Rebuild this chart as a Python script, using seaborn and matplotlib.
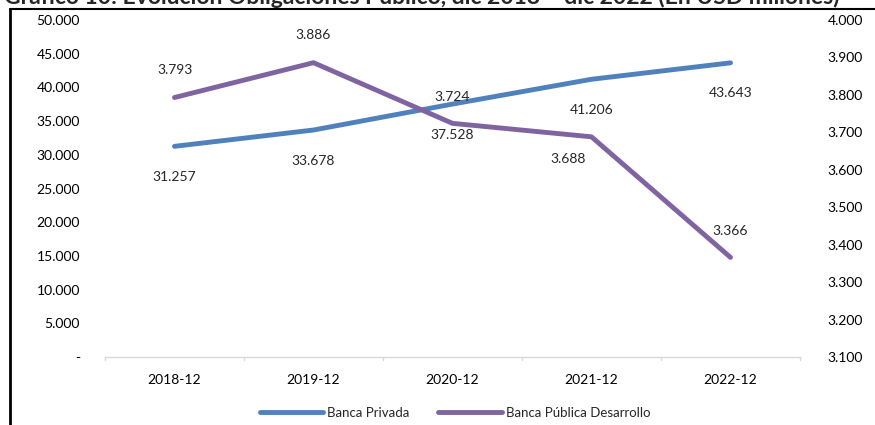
import matplotlib
matplotlib.use("Agg")
import matplotlib.pyplot as plt
import seaborn as sns
import pandas as pd
from matplotlib.ticker import FuncFormatter, FixedLocator
from matplotlib.lines import Line2D

categories = ["2018-12", "2019-12", "2020-12", "2021-12", "2022-12"]
banca_privada = [31257, 33678, 37528, 41206, 43643]
banca_publica = [3793, 3886, 3724, 3688, 3366]
series_names = ["Banca Privada", "Banca Pública Desarrollo"]
title = "Gráfico 10: Evolución Obligaciones Público, dic 2018 – dic 2022 (En USD millones)"

sns.set_theme(style="white")
plt.rcParams["font.family"] = ["Lato", "DejaVu Sans"]

BLUE = "#4F81BD"
PURPLE = "#8064A2"

def fmt(v, pos=None):
    if abs(v) < 1e-9:
        return "-"
    return f"{v:,.0f}".replace(",", ".")

df = pd.DataFrame({"cat": categories, "priv": banca_privada, "pub": banca_publica})

fig = plt.figure(figsize=(8.75, 4.25), dpi=100)
ax = fig.add_axes([105/875, 1-357/425, 695/875, 337/425])
ax2 = ax.twinx()

sns.lineplot(data=df, x="cat", y="priv", ax=ax, color=BLUE, lw=3.5, sort=False)
sns.lineplot(data=df, x="cat", y="pub", ax=ax2, color=PURPLE, lw=3.5, sort=False)

ax.set_xlim(-0.5, len(categories) - 0.5)
ax.set_ylim(0, 50000)
ax2.set_ylim(3100, 4000)
ax.yaxis.set_major_locator(FixedLocator(range(0, 50001, 5000)))
ax2.yaxis.set_major_locator(FixedLocator(range(3100, 4001, 100)))
ax.yaxis.set_major_formatter(FuncFormatter(fmt))
ax2.yaxis.set_major_formatter(FuncFormatter(fmt))
ax.set_xlabel("")
ax.set_ylabel("")
ax2.set_ylabel("")

for a in (ax, ax2):
    for s in ("top", "left", "right"):
        a.spines[s].set_visible(False)
    a.spines["bottom"].set_color("#D9D9D9")
    a.spines["bottom"].set_linewidth(1)
    a.tick_params(axis="y", length=0, labelsize=10, colors="black", pad=18)
    a.grid(False)
ax2.spines["bottom"].set_visible(False)
ax2.tick_params(axis="y", pad=20)

ax.set_xticks(range(len(categories)))
ax.set_xticklabels(categories)
ax.tick_params(axis="x", length=0, labelsize=10, colors="black", pad=12)
for b in [i - 0.5 for i in range(len(categories) + 1)]:
    ax.plot([b, b], [0, -400], color="#D9D9D9", lw=1, clip_on=False)

# data labels
for i, v in enumerate(banca_privada):
    ax.annotate(fmt(v), (i, v), xytext=(0, -22), textcoords="offset points",
                ha="center", va="center", fontsize=10)
pub_off = [(0, 20), (0, 20), (0, 19), (-17, -16), (0, 19)]
for i, v in enumerate(banca_publica):
    dx, dy = pub_off[i]
    ax2.annotate(fmt(v), (i, v), xytext=(dx, dy), textcoords="offset points",
                 ha="center", va="center", fontsize=10)

handles = [Line2D([], [], color=BLUE, lw=3.5), Line2D([], [], color=PURPLE, lw=3.5)]
fig.legend(handles, series_names, loc="center", bbox_to_anchor=(455/875, 1-413/425),
           ncol=2, frameon=False, fontsize=9.5, handlelength=4.8, columnspacing=2.2,
           handletextpad=0.3)

# title (partly cut at the top edge as in the source image) and frame
fig.text(4/875, 1-4/425, title, fontsize=16.5, fontweight="bold", ha="left", va="baseline")
fig.add_artist(Line2D([10/875, 10/875], [0, 1-9/425], color="black", lw=2, transform=fig.transFigure))
fig.add_artist(Line2D([10/875, 1], [1-9/425, 1-9/425], color="black", lw=1.5, transform=fig.transFigure))

fig.savefig("out.png", dpi=100)
